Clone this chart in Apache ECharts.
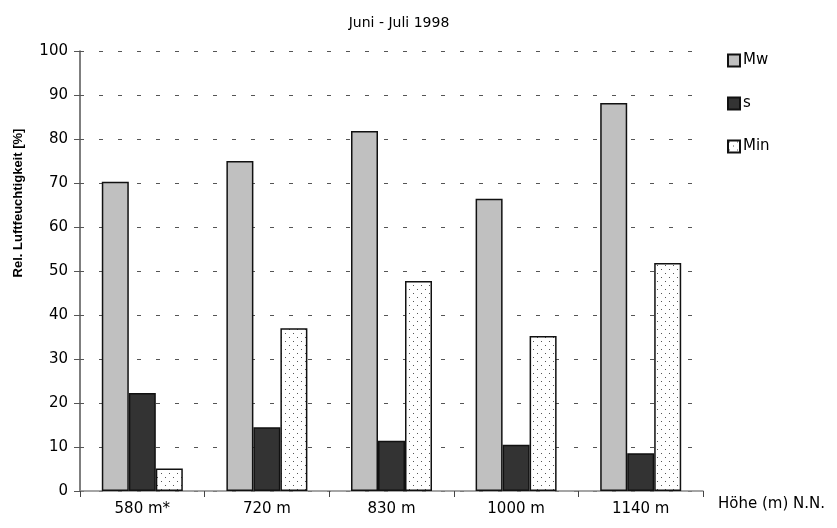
<!DOCTYPE html>
<html>
<head>
<meta charset="utf-8">
<script src="https://cdn.jsdelivr.net/npm/echarts@6/dist/echarts.min.js"></script>
<style>
html,body{margin:0;padding:0;background:#fff;}
#chart{width:837px;height:528px;}
</style>
</head>
<body>
<div id="chart"></div>
<script>
// Relative humidity by altitude, June - July 1998
const categories = ['580 m*', '720 m', '830 m', '1000 m', '1140 m'];
const meanValues = [70.3, 75.0, 81.8, 66.4, 88.2];   // Mw
const sdValues   = [22.3, 14.5, 11.4, 10.5, 8.6];    // s
const minValues  = [5.1, 37.0, 47.7, 35.2, 51.8];    // Min
const yTicks = [0, 10, 20, 30, 40, 50, 60, 70, 80, 90, 100];

// Stippled fill for the minimum series
function dotPattern() {
  const c = document.createElement('canvas');
  c.width = 8; c.height = 8;
  const g = c.getContext('2d');
  g.fillStyle = '#ffffff';
  g.fillRect(0, 0, 8, 8);
  g.fillStyle = '#555555';
  g.fillRect(1, 1, 1, 1);
  g.fillRect(5, 5, 1, 1);
  return c;
}

const font = 'DejaVu Sans, Verdana, sans-serif';
const chart = echarts.init(document.getElementById('chart'), null, {renderer: 'canvas'});

const barBorder = {borderColor: '#111', borderWidth: 1.5};

chart.setOption({
  animation: false,
  backgroundColor: '#fff',
  textStyle: {fontFamily: font, color: '#000'},
  title: {
    text: 'Juni - Juli 1998',
    left: 394, top: 11, textAlign: 'center',
    textStyle: {fontSize: 14, fontWeight: 'normal', color: '#000', fontFamily: font}
  },
  legend: {
    orient: 'vertical',
    left: 727, top: 53, padding: 0,
    itemWidth: 12, itemHeight: 12,
    itemGap: 28,
    icon: 'rect',
    textStyle: {fontSize: 15, color: '#000', fontFamily: font, padding: [0, 0, 0, -2]},
    data: ['Mw', 's', 'Min']
  },
  grid: {left: 80, right: 134, top: 51, bottom: 37},
  graphic: [{
    type: 'text',
    x: 18, y: 203,
    rotation: Math.PI / 2,
    style: {
      text: 'Rel. Luftfeuchtigkeit [%]',
      fontFamily: 'Liberation Sans, Arial, sans-serif',
      fontWeight: 'bold', fontSize: 13, fill: '#000',
      align: 'center', verticalAlign: 'middle'
    }
  }],
  xAxis: {
    type: 'category',
    data: categories,
    name: 'Höhe (m) N.N.',
    nameLocation: 'end',
    nameGap: 15,
    nameTextStyle: {fontSize: 15, color: '#000', fontFamily: font, verticalAlign: 'top', padding: [6, 0, 0, 0]},
    axisLine: {lineStyle: {color: '#888', width: 1.5}},
    axisTick: {show: true, length: 6, inside: false, lineStyle: {color: '#444'}},
    axisLabel: {fontSize: 15, color: '#000', fontFamily: font, margin: 11}
  },
  yAxis: {
    type: 'value',
    min: yTicks[0], max: yTicks[yTicks.length - 1], interval: 10,
    axisLine: {show: true, lineStyle: {color: '#555', width: 1.5}},
    axisTick: {show: true, length: 6, lineStyle: {color: '#555'}},
    axisLabel: {fontSize: 15, color: '#000', fontFamily: font, margin: 12},
    splitLine: {show: true, lineStyle: {color: '#555', width: 1, type: [4, 15]}}
  },
  series: [
    {name: 'Mw', type: 'bar', data: meanValues, barWidth: 27, barGap: '0%',
     itemStyle: Object.assign({color: '#c0c0c0'}, barBorder)},
    {name: 's', type: 'bar', data: sdValues, barWidth: 27, barGap: '0%',
     itemStyle: Object.assign({color: '#333333'}, barBorder)},
    {name: 'Min', type: 'bar', data: minValues, barWidth: 27, barGap: '0%',
     itemStyle: Object.assign({color: {image: dotPattern(), repeat: 'repeat'}}, barBorder)}
  ]
});
</script>
</body>
</html>
